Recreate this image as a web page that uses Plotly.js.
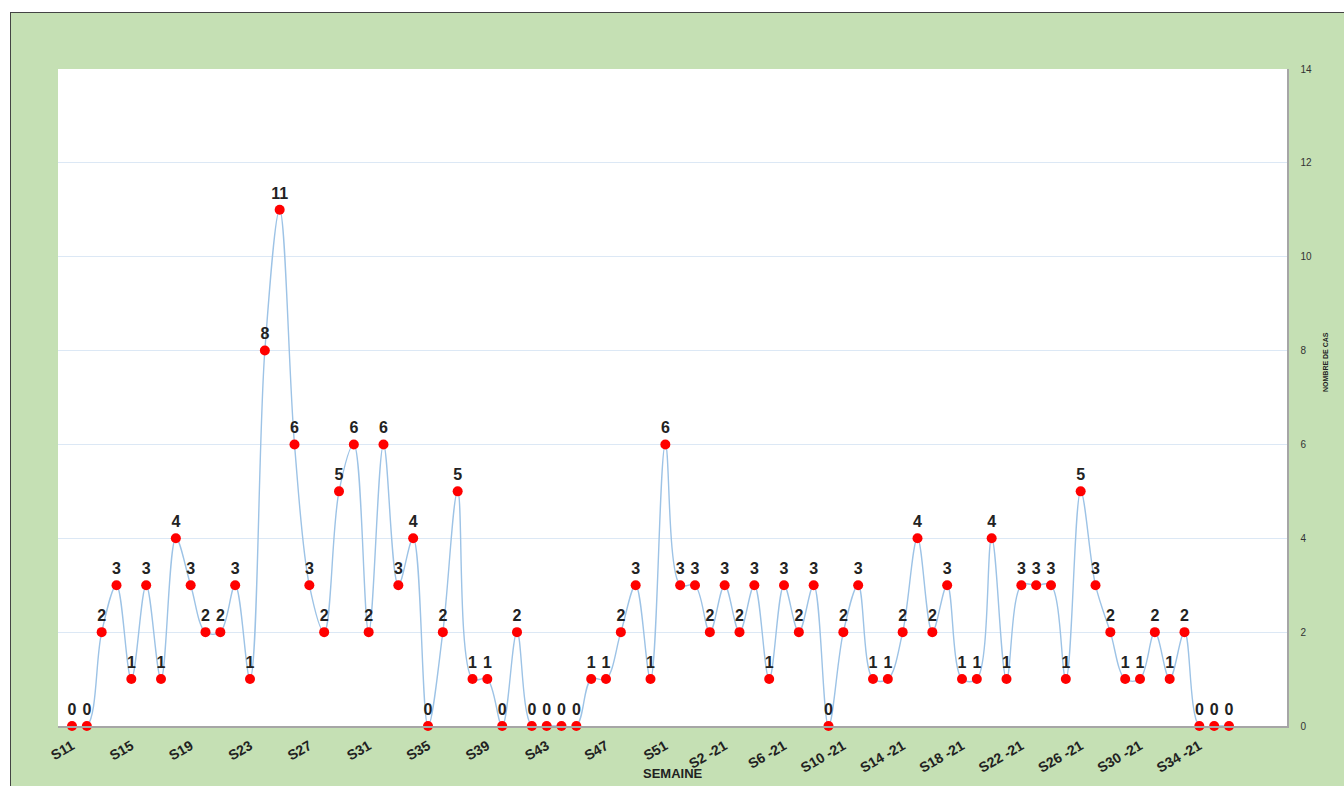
<!DOCTYPE html>
<html>
<head>
<meta charset="utf-8">
<script src="https://cdn.plot.ly/plotly-3.0.1.min.js"></script>
<style>
  html, body { margin: 0; padding: 0; width: 1344px; height: 786px; overflow: hidden; background: #ffffff; }
  #frame { position: absolute; left: 10px; top: 12px; width: 1400px; height: 800px;
           background: #c5e0b4; border: 1.5px solid #444; }
  #chart { position: absolute; left: 0; top: 0; width: 1344px; height: 786px; }
</style>
</head>
<body>
<div id="frame"></div>
<div id="chart"></div>
<script>
// Weeks 2020 (S11..S53) and 2021 (S1..S36)
const weeks2020 = [];
for (let w = 11; w <= 53; w++) weeks2020.push("S" + w);
const weeks2021 = [];
for (let w = 1; w <= 36; w++) weeks2021.push("S" + w + " -21");
const weeks = weeks2020.concat(weeks2021);

const cases = [
  0, 0, 2, 3, 1, 3, 1, 4, 3, 2, 2, 3, 1, 8, 11, 6, 3, 2, 5, 6,
  2, 6, 3, 4, 0, 2, 5, 1, 1, 0, 2, 0, 0, 0, 0, 1, 1, 2, 3, 1,
  6, 3, 3,
  2, 3, 2, 3, 1, 3, 2, 3, 0, 2, 3, 1, 1, 2, 4, 2, 3, 1, 1, 4,
  1, 3, 3, 3, 1, 5, 3, 2, 1, 1, 2, 1, 2, 0, 0, 0
];

const tickLabels = ["S11","S15","S19","S23","S27","S31","S35","S39","S43","S47","S51",
  "S2 -21","S6 -21","S10 -21","S14 -21","S18 -21","S22 -21","S26 -21","S30 -21","S34 -21"];

const yTicks = [0, 2, 4, 6, 8, 10, 12, 14];

const trace = {
  type: "scatter",
  mode: "lines+markers+text",
  x: weeks,
  y: cases,
  text: cases.map(String),
  textposition: "top center",
  textfont: { family: "Liberation Sans, Arial", size: 16, color: "#222222", weight: "bold" },
  line: { color: "#9dc3e6", width: 1.4, shape: "spline", smoothing: 1 },
  marker: { color: "#ff0000", size: 10 },
  cliponaxis: false,
  hoverinfo: "x+y"
};

const layout = {
  width: 1344,
  height: 786,
  margin: { l: 58, r: 57, t: 69, b: 60 },
  paper_bgcolor: "rgba(0,0,0,0)",
  plot_bgcolor: "#ffffff",
  showlegend: false,
  font: { family: "Liberation Sans, Arial", color: "#222222" },
  xaxis: {
    type: "category",
    categoryorder: "array",
    categoryarray: weeks,
    range: [-0.944, 81.91],
    tickvals: tickLabels.map(t => t),
    ticktext: tickLabels,
    tickangle: -30,
    tickfont: { family: "Liberation Sans, Arial", size: 14, color: "#222222", weight: "bold" },
    showgrid: false,
    zeroline: false,
    showline: true,
    linecolor: "#a6a6a6",
    linewidth: 1.5,
    ticks: "",
    ticklabelstandoff: 5,
    fixedrange: true
  },
  yaxis: {
    side: "right",
    range: [0, 14],
    tickvals: yTicks,
    tickfont: { family: "Liberation Sans, Arial", size: 10, color: "#333333" },
    showgrid: true,
    gridcolor: "#dce8f5",
    gridwidth: 1,
    zeroline: false,
    showline: true,
    linecolor: "#a6a6a6",
    linewidth: 1.5,
    ticks: "",
    ticklabelstandoff: 10,
    fixedrange: true
  },
  annotations: [
    {
      text: "<b>SEMAINE</b>",
      xref: "paper", yref: "paper",
      x: (673 - 58) / 1229, y: (726 - 773) / 657,
      xanchor: "center", yanchor: "middle",
      showarrow: false,
      font: { family: "Liberation Sans, Arial", size: 13, color: "#222222" }
    },
    {
      text: "<b>NOMBRE DE CAS</b>",
      xref: "paper", yref: "paper",
      x: (1325 - 58) / 1229, y: (726 - 362) / 657,
      xanchor: "center", yanchor: "middle",
      textangle: -90,
      showarrow: false,
      font: { family: "Liberation Sans, Arial", size: 7, color: "#222222" }
    }
  ]
};

Plotly.newPlot("chart", [trace], layout, { displayModeBar: false, staticPlot: true });
</script>
</body>
</html>
